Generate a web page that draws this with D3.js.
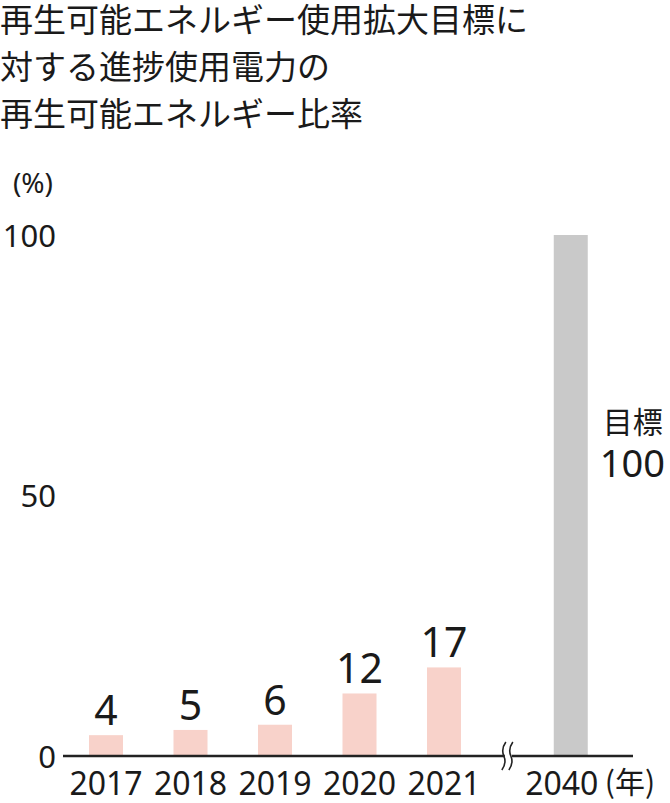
<!DOCTYPE html>
<html>
<head>
<meta charset="utf-8">
<script src="https://cdn.jsdelivr.net/npm/d3@7"></script>
<style>
	body { margin: 0; background: #fff; }
	text { fill: #1a1a1a; font-family: "Noto Sans", "Noto Sans CJK JP", sans-serif; }
	.jp { font-family: "Noto Sans CJK JP", sans-serif; }
</style>
</head>
<body>
<div id="chart"></div>
<script>
// data
var titleLines = ["再生可能エネルギー使用拡大目標に", "対する進捗使用電力の", "再生可能エネルギー比率"];
var years = ["2017", "2018", "2019", "2020", "2021"];
var shares = [4, 5, 6, 12, 17];
var targetYear = "2040";
var targetShare = 100;
var targetLabel = "目標";
var yTicks = [0, 50, 100];

var W = 670, H = 803;
var svg = d3.select("#chart").append("svg")
	.attr("width", W)
	.attr("height", H);

// title
svg.selectAll("text.title").data(titleLines).enter().append("text")
	.attr("class", "title jp")
	.attr("x", 0)
	.attr("y", function(d, i) { return 32 + i * 47; })
	.style("font-size", "33px")
	.text(function(d) { return d; });

var y = d3.scaleLinear().domain([0, 100]).range([756, 235]);
var x = d3.scalePoint().domain(years).range([106, 444]);
var step = x.step();
var xTarget = x("2021") + step * 1.5;
var bw = 34;

// y axis (labels only)
var yAxis = svg.append("g")
	.attr("transform", "translate(56,0)")
	.call(d3.axisLeft(y).tickValues(yTicks).tickSize(0).tickPadding(0));
yAxis.select(".domain").remove();
yAxis.selectAll("text")
	.style("font-size", "31px")
	.style("font-family", "Noto Sans")
	.attr("fill", "#1a1a1a")
	.attr("dy", "0.36em");

svg.append("text")
	.attr("x", 33)
	.attr("y", 193)
	.attr("text-anchor", "middle")
	.style("font-size", "28px")
	.text("(%)");

// bars
svg.selectAll("rect.bar").data(shares).enter().append("rect")
	.attr("class", "bar")
	.attr("x", function(d, i) { return x(years[i]) - bw / 2; })
	.attr("y", function(d) { return y(d); })
	.attr("width", bw)
	.attr("height", function(d) { return y(0) - y(d); })
	.style("fill", "#f8d2ca");

svg.selectAll("text.val").data(shares).enter().append("text")
	.attr("class", "val")
	.attr("x", function(d, i) { return x(years[i]); })
	.attr("y", function(d) { return y(d) - 10; })
	.attr("text-anchor", "middle")
	.style("font-size", "41px")
	.text(function(d) { return d; });

svg.append("rect")
	.attr("x", xTarget - bw / 2)
	.attr("y", y(targetShare))
	.attr("width", bw)
	.attr("height", y(0) - y(targetShare))
	.style("fill", "#c9c9c9");

svg.append("text")
	.attr("class", "jp")
	.attr("x", xTarget + 32)
	.attr("y", 433)
	.style("font-size", "30px")
	.text(targetLabel);
svg.append("text")
	.attr("x", xTarget + 29)
	.attr("y", 477)
	.style("font-size", "38px")
	.text(targetShare);

// x axis line with break
var y0 = y(0);
var gapL = x("2021") + step * 0.72, gapR = gapL + 7;
svg.append("line")
	.attr("x1", 63).attr("x2", gapL)
	.attr("y1", y0).attr("y2", y0)
	.style("stroke", "#222").style("stroke-width", 2.5);
svg.append("line")
	.attr("x1", gapR).attr("x2", 633)
	.attr("y1", y0).attr("y2", y0)
	.style("stroke", "#222").style("stroke-width", 2.5);

[gapL - 1, gapR - 1].forEach(function(bx) {
	svg.append("path")
		.attr("d", "M" + (bx + 2) + "," + (y0 - 14) +
			" Q" + (bx - 3) + "," + (y0 - 7) + " " + bx + "," + y0 +
			" T" + (bx - 2) + "," + (y0 + 14))
		.style("fill", "none")
		.style("stroke", "#222")
		.style("stroke-width", 1.6);
});

// year labels
svg.selectAll("text.year").data(years).enter().append("text")
	.attr("class", "year")
	.attr("x", function(d) { return x(d); })
	.attr("y", 795)
	.attr("text-anchor", "middle")
	.style("font-size", "32px")
	.text(function(d) { return d; });

svg.append("text")
	.attr("x", xTarget - 9)
	.attr("y", 795)
	.attr("text-anchor", "middle")
	.style("font-size", "32px")
	.text(targetYear);
svg.append("text")
	.attr("class", "jp")
	.attr("x", xTarget + 34)
	.attr("y", 793)
	.style("font-size", "30px")
	.text("(年)");
</script>
</body>
</html>
